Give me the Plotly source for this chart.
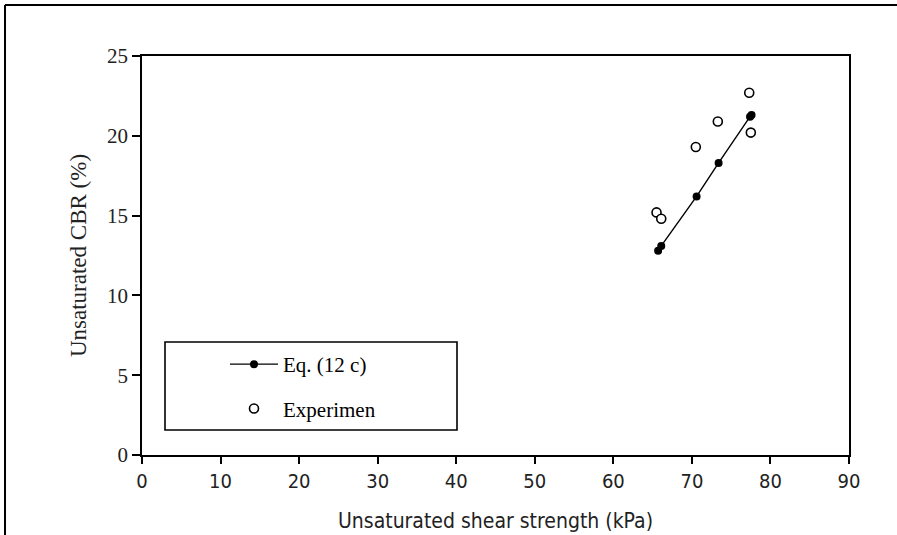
import plotly.graph_objects as go

# Data
eq_x = [65.7, 66.1, 70.6, 73.4, 77.4, 77.6]
eq_y = [12.8, 13.1, 16.2, 18.3, 21.2, 21.3]
exp_x = [65.5, 66.1, 70.5, 73.3, 77.3, 77.5]
exp_y = [15.2, 14.8, 19.3, 20.9, 22.7, 20.2]
x_ticks = [0, 10, 20, 30, 40, 50, 60, 70, 80, 90]
y_ticks = [0, 5, 10, 15, 20, 25]

W, H = 897, 535
L, R, T, B = 142, 48, 56, 80
pw, ph = W - L - R, H - T - B

def px(x):
    return (x - L) / pw

def py(y):
    return (H - B - y) / ph

fig = go.Figure()
fig.add_trace(go.Scatter(
    x=eq_x, y=eq_y, mode="lines+markers", name="Eq. (12 c)",
    line=dict(color="black", width=1.4),
    marker=dict(symbol="circle", size=8, color="black"),
    legendgroup="a",
))
fig.add_trace(go.Scatter(
    x=exp_x, y=exp_y, mode="markers", name="Experimen",
    marker=dict(symbol="circle", size=9, color="white",
                line=dict(color="black", width=1.6)),
    legendgroup="b",
))

serif = "Liberation Serif, Times New Roman, serif"
sans = "DejaVu Sans Condensed, Liberation Sans Narrow, Liberation Sans, sans-serif"

fig.update_layout(
    width=W, height=H,
    margin=dict(l=L, r=R, t=T, b=B, autoexpand=False),
    paper_bgcolor="white", plot_bgcolor="white",
    showlegend=True,
    legend=dict(
        x=px(225), y=py(344), xanchor="left", yanchor="top",
        bgcolor="rgba(0,0,0,0)", borderwidth=0,
        font=dict(family=serif, size=21, color="black"),
        tracegroupgap=14, traceorder="grouped", itemwidth=48,
    ),
    xaxis=dict(
        range=[0, 90], tickvals=x_ticks, ticks="outside", ticklen=7,
        tickwidth=1.5, automargin=False,
        tickcolor="black", showline=True, linecolor="black", linewidth=1.8,
        mirror=True, showgrid=False, zeroline=False,
        tickfont=dict(family=sans, size=20, color="#222"),
        title=dict(text="Unsaturated shear strength (kPa)",
                   font=dict(family=sans, size=21, color="#222"), standoff=21),
    ),
    yaxis=dict(
        range=[0, 25], tickvals=y_ticks, ticks="outside", ticklen=8,
        tickwidth=1.5, automargin=False,
        tickcolor="black", showline=True, linecolor="black", linewidth=1.8,
        mirror=True, showgrid=False, zeroline=False,
        tickfont=dict(family=serif, size=21, color="#222"),
        title=dict(text="Unsaturated CBR (%)",
                   font=dict(family=serif, size=23, color="#222"), standoff=14),
    ),
    shapes=[
        # legend box
        dict(type="rect", xref="paper", yref="paper",
             x0=px(165), x1=px(457), y0=py(430), y1=py(342),
             line=dict(color="black", width=1.6), fillcolor="rgba(0,0,0,0)"),
        # outer figure frame (top and left edges)
        dict(type="line", xref="paper", yref="paper",
             x0=px(5), x1=px(897), y0=py(5), y1=py(5),
             line=dict(color="black", width=2)),
        dict(type="line", xref="paper", yref="paper",
             x0=px(5), x1=px(5), y0=py(5), y1=py(535),
             line=dict(color="black", width=2)),
    ],
)

fig.write_html("out.html")
